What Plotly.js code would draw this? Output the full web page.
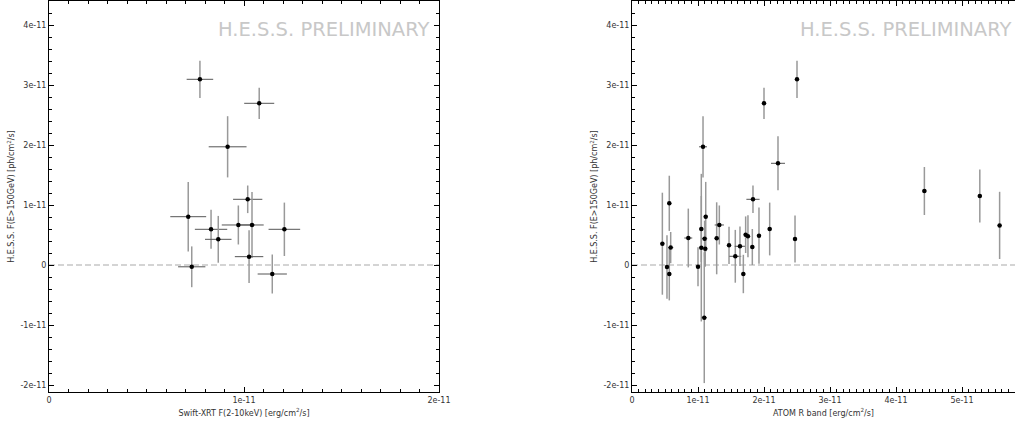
<!DOCTYPE html>
<html>
<head>
<meta charset="utf-8">
<script src="https://cdn.plot.ly/plotly-3.0.1.min.js"></script>
<style>html,body{margin:0;padding:0;background:#fff;}#chart{width:1015px;height:425px;}</style>
</head>
<body>
<div id="chart"></div>
<script>
// Left panel: Swift-XRT vs H.E.S.S.
const xrtFlux    = [7.74e-12, 10.78e-12, 9.16e-12, 7.14e-12, 7.32e-12, 8.31e-12, 8.68e-12, 10.19e-12, 9.71e-12, 10.41e-12, 10.26e-12, 12.07e-12, 11.45e-12];
const xrtErr     = [0.68e-12, 0.77e-12, 0.97e-12, 0.92e-12, 0.70e-12, 0.83e-12, 0.68e-12, 0.75e-12, 0.85e-12, 0.60e-12, 0.73e-12, 0.81e-12, 0.75e-12];
const hessXrt    = [30.95e-12, 26.95e-12, 19.7e-12, 8.05e-12, -0.3e-12, 5.95e-12, 4.28e-12, 10.95e-12, 6.67e-12, 6.67e-12, 1.39e-12, 5.95e-12, -1.5e-12];
const hessXrtErr = [3.1e-12, 2.6e-12, 5.1e-12, 5.8e-12, 3.4e-12, 3.25e-12, 3.9e-12, 2.3e-12, 3.25e-12, 5.5e-12, 4.4e-12, 4.45e-12, 3.25e-12];

// Right panel: ATOM R band vs H.E.S.S.
const atomFlux    = [4.6e-12, 5.3e-12, 5.65e-12, 5.65e-12, 5.86e-12, 8.53e-12, 10.0e-12, 10.5e-12, 10.76e-12, 10.5e-12, 11.0e-12, 11.17e-12, 11.1e-12, 10.95e-12, 12.83e-12, 13.23e-12, 14.7e-12, 15.65e-12, 16.36e-12, 16.87e-12, 17.22e-12, 17.57e-12, 18.23e-12, 18.33e-12, 19.24e-12, 20.0e-12, 20.86e-12, 22.12e-12, 24.7e-12, 25.0e-12, 44.3e-12, 52.7e-12, 55.7e-12];
const atomErr     = [0.3e-12, 0.3e-12, 0.3e-12, 0.3e-12, 0.4e-12, 0.6e-12, 0.3e-12, 0.3e-12, 0.6e-12, 0.3e-12, 0.4e-12, 0.3e-12, 0.3e-12, 0.4e-12, 0.3e-12, 0.7e-12, 0.3e-12, 0.9e-12, 0.8e-12, 0.3e-12, 0.3e-12, 0.3e-12, 0.3e-12, 1.0e-12, 0.3e-12, 0.3e-12, 0.3e-12, 1.06e-12, 0.3e-12, 0.3e-12, 0.3e-12, 0.3e-12, 0.3e-12];
const hessAtom    = [3.55e-12, -0.33e-12, -1.5e-12, 10.28e-12, 2.9e-12, 4.5e-12, -0.28e-12, 6.0e-12, 19.7e-12, 2.89e-12, 4.39e-12, 8.05e-12, 2.72e-12, -8.78e-12, 4.45e-12, 6.67e-12, 3.28e-12, 1.45e-12, 3.12e-12, -1.5e-12, 5.05e-12, 4.78e-12, 3.0e-12, 10.95e-12, 4.89e-12, 26.95e-12, 6.0e-12, 16.95e-12, 4.33e-12, 30.95e-12, 12.33e-12, 11.5e-12, 6.6e-12];
const hessAtomErr = [8.5e-12, 5.3e-12, 4.4e-12, 4.6e-12, 2.6e-12, 4.9e-12, 3.25e-12, 5.5e-12, 5.1e-12, 12.3e-12, 3.0e-12, 5.8e-12, 3.0e-12, 10.9e-12, 6.0e-12, 3.25e-12, 3.1e-12, 4.4e-12, 3.3e-12, 3.2e-12, 3.05e-12, 3.5e-12, 3.0e-12, 2.3e-12, 4.7e-12, 2.6e-12, 4.4e-12, 4.5e-12, 3.9e-12, 3.1e-12, 4.0e-12, 4.4e-12, 5.6e-12];

// Tick labels
const yTickVals = [-2e-11, -1e-11, 0, 1e-11, 2e-11, 3e-11, 4e-11];
const yTickText = ['-2e-11', '-1e-11', '0', '1e-11', '2e-11', '3e-11', '4e-11'];
const xLeftTickVals = [0, 1e-11, 2e-11];
const xLeftTickText = ['0', '1e-11', '2e-11'];
const xRightTickVals = [0, 1e-11, 2e-11, 3e-11, 4e-11, 5e-11];
const xRightTickText = ['0', '1e-11', '2e-11', '3e-11', '4e-11', '5e-11'];

const W = 1015, H = 425;
const FONT = 'DejaVu Sans, sans-serif';

function scatter(x, y, ex, ey, xa, ya) {
  return {
    type: 'scatter', mode: 'markers', x: x, y: y, xaxis: xa, yaxis: ya,
    marker: {color: '#000', size: 4.5},
    error_x: {type: 'data', array: ex, visible: true, color: '#555', thickness: 1, width: 0},
    error_y: {type: 'data', array: ey, visible: true, color: '#999', thickness: 1.5, width: 0},
    showlegend: false, hoverinfo: 'x+y'
  };
}

const data = [
  scatter(xrtFlux, hessXrt, xrtErr, hessXrtErr, 'x', 'y'),
  scatter(atomFlux, hessAtom, atomErr, hessAtomErr, 'x2', 'y2')
];

const yDomain = [1 - 392 / H, 1 - 1 / H];
const yRange = [-(392 - 265) / 60 * 1e-11, (265 - 1) / 60 * 1e-11];

function yAxis(anchor, mirror) {
  return {
    anchor: anchor, domain: yDomain, range: yRange,
    tickmode: 'array', tickvals: yTickVals, ticktext: yTickText,
    ticks: 'inside', ticklen: 5, tickcolor: '#000', tickwidth: 1,
    minor: {tickmode: 'linear', tick0: 0, dtick: 2e-12, ticks: 'inside', ticklen: 3, tickcolor: '#000', showgrid: false},
    showline: true, linecolor: '#000', linewidth: 1, mirror: mirror,
    showgrid: false, zeroline: false,
    tickfont: {family: FONT, size: 8, color: '#333'},
    title: {text: 'H.E.S.S. F(E>150GeV) [ph/cm<sup>2</sup>/s]', font: {family: FONT, size: 8, color: '#333'}, standoff: 4}
  };
}

function xAxis(anchor, domain, range, tv, tt, title) {
  return {
    anchor: anchor, domain: domain, range: range,
    tickmode: 'array', tickvals: tv, ticktext: tt,
    ticks: 'inside', ticklen: 5, tickcolor: '#000', tickwidth: 1,
    minor: {tickmode: 'linear', tick0: 0, dtick: 1e-12, ticks: 'inside', ticklen: 3, tickcolor: '#000', showgrid: false},
    showline: true, linecolor: '#000', linewidth: 1, mirror: 'ticks',
    showgrid: false, zeroline: false,
    tickfont: {family: FONT, size: 8, color: '#333'},
    title: {text: title, font: {family: FONT, size: 8, color: '#333'}, standoff: 6}
  };
}

const layout = {
  width: W, height: H,
  margin: {l: 0, r: 0, t: 0, b: 0},
  paper_bgcolor: '#fff', plot_bgcolor: '#fff',
  font: {family: FONT, size: 8, color: '#333'},
  xaxis: xAxis('y', [49 / W, 439 / W], [0, 2e-11], xLeftTickVals, xLeftTickText, 'Swift-XRT F(2-10keV) [erg/cm<sup>2</sup>/s]'),
  yaxis: yAxis('x', 'ticks'),
  xaxis2: xAxis('y2', [632 / W, 1], [0, (1015 - 632) / 66 * 1e-11], xRightTickVals, xRightTickText, 'ATOM R band [erg/cm<sup>2</sup>/s]'),
  yaxis2: yAxis('x2', false),
  shapes: [
    {type: 'line', xref: 'x domain', yref: 'y', x0: 0, x1: 1, y0: 0, y1: 0, line: {color: '#aaa', width: 1.2, dash: '6px,3px'}, layer: 'below'},
    {type: 'line', xref: 'x2 domain', yref: 'y2', x0: 0, x1: 1, y0: 0, y1: 0, line: {color: '#aaa', width: 1.2, dash: '6px,3px'}, layer: 'below'}
  ],
  annotations: [
    {text: 'H.E.S.S. PRELIMINARY', xref: 'x domain', yref: 'y domain', x: 0.98, y: 0.927, xanchor: 'right', yanchor: 'middle', showarrow: false, font: {family: FONT, size: 19.5, color: '#c8c8c8'}},
    {text: 'H.E.S.S. PRELIMINARY', xref: 'x2 domain', yref: 'y2 domain', x: 0.995, y: 0.927, xanchor: 'right', yanchor: 'middle', showarrow: false, font: {family: FONT, size: 19.5, color: '#c8c8c8'}}
  ]
};

Plotly.newPlot('chart', data, layout, {staticPlot: true, displayModeBar: false});
</script>
</body>
</html>
